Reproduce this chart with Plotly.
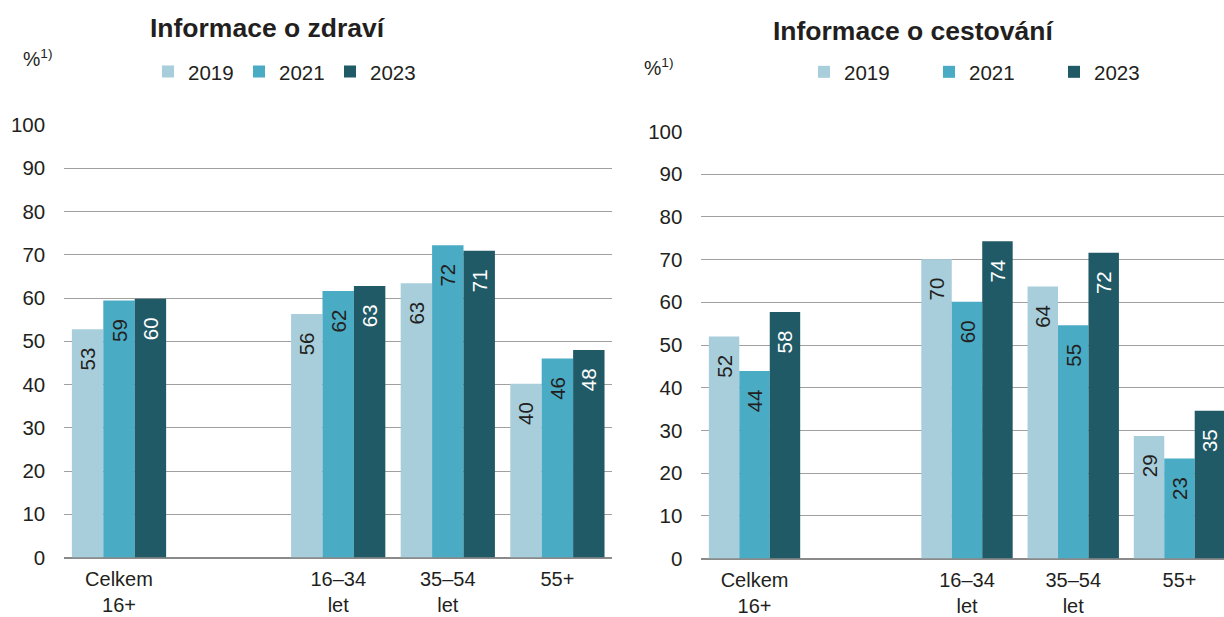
import plotly.graph_objects as go

W, H = 1224, 617

categories = ["Celkem<br>16+", " ", "16–34<br>let", "35–54<br>let", "55+"]
years = ["2019", "2021", "2023"]

zdravi_2019 = [52.8, None, 56.3, 63.4, 40.2]
zdravi_2021 = [59.4, None, 61.6, 72.2, 46.0]
zdravi_2023 = [59.8, None, 62.8, 70.9, 48.0]

cestovani_2019 = [52.0, None, 70.1, 63.7, 28.7]
cestovani_2021 = [43.9, None, 60.1, 54.6, 23.4]
cestovani_2023 = [57.7, None, 74.3, 71.6, 34.6]

title_left = "Informace o zdraví"
title_right = "Informace o cestování"
unit_label = "%<sup>1)</sup>"
y_ticks = list(range(0, 101, 10))

colors = {"2019": "#A8CEDC", "2021": "#4AABC5", "2023": "#215A67"}
label_colors = {"2019": "#231F20", "2021": "#231F20", "2023": "#FFFFFF"}

FONT = "Liberation Sans, Arial, sans-serif"
TXT = "#231F20"
FS = 20.5
PAD = "\u00a0\u00a0\u2009"

fig = go.Figure()

left_series = [zdravi_2019, zdravi_2021, zdravi_2023]
right_series = [cestovani_2019, cestovani_2021, cestovani_2023]

for yr, vals in zip(years, left_series):
    fig.add_trace(go.Bar(
        x=categories, y=vals, name=yr, xaxis="x", yaxis="y",
        marker=dict(color=colors[yr], line=dict(width=0)),
        texttemplate="%{y:.0f}" + PAD, textposition="inside",
        insidetextanchor="end", textangle=-90,
        textfont=dict(family=FONT, size=FS, color=label_colors[yr]),
        legend="legend", hoverinfo="skip",
    ))

for yr, vals in zip(years, right_series):
    fig.add_trace(go.Bar(
        x=categories, y=vals, name=yr, xaxis="x2", yaxis="y2",
        marker=dict(color=colors[yr], line=dict(width=0)),
        texttemplate="%{y:.0f}" + PAD, textposition="inside",
        insidetextanchor="end", textangle=-90,
        textfont=dict(family=FONT, size=FS, color=label_colors[yr]),
        legend="legend2", hoverinfo="skip",
    ))

def px_x(p):
    return p / W

def px_y(p):
    return (H - p) / H

axis_font = dict(family=FONT, size=FS, color=TXT)
xaxis_font = dict(family=FONT, size=20, color=TXT)

xcommon = dict(type="category", categoryorder="array", categoryarray=categories,
               showgrid=False, zeroline=False, showline=False, ticks="",
               tickfont=xaxis_font, fixedrange=True, ticklabelstandoff=7,
               automargin=False)
ycommon = dict(range=[0, 100], tickvals=y_ticks, showgrid=True, gridcolor="#A0A0A0",
               gridwidth=1.3, zeroline=True, zerolinecolor="#8A8A8A", zerolinewidth=2.2,
               showline=False, ticks="", tickfont=axis_font, fixedrange=True,
               ticklabelstandoff=18, automargin=False)

fig.update_layout(
    width=W, height=H, autosize=False,
    margin=dict(l=0, r=0, t=0, b=0, pad=0, autoexpand=False),
    paper_bgcolor="white", plot_bgcolor="white",
    barmode="group", bargap=0.14, bargroupgap=0,
    font=dict(family=FONT, color=TXT),
    uniformtext=dict(minsize=FS, mode="show"),
    xaxis=dict(xcommon, domain=[px_x(64.2), px_x(612.2)], range=[-0.5, 4.5], anchor="y"),
    yaxis=dict(ycommon, domain=[px_y(557.5), px_y(125)], anchor="x"),
    xaxis2=dict(xcommon, domain=[px_x(701.4), 1.0], range=[-0.5, 4.419], anchor="y2"),
    yaxis2=dict(ycommon, domain=[px_y(558.5), px_y(131.5)], anchor="x2"),
    legend=dict(orientation="h", x=px_x(148), y=px_y(71.7), xanchor="left", yanchor="middle",
                font=dict(family=FONT, size=FS, color=TXT), entrywidth=46,
                entrywidthmode="pixels", bgcolor="rgba(0,0,0,0)", traceorder="normal"),
    legend2=dict(orientation="h", x=px_x(804), y=px_y(72), xanchor="left", yanchor="middle",
                 font=dict(family=FONT, size=FS, color=TXT), entrywidth=80,
                 entrywidthmode="pixels", bgcolor="rgba(0,0,0,0)", traceorder="normal"),
    annotations=[
        dict(text="<b>" + title_left + "</b>", x=px_x(267.5), y=px_y(28.5), xref="paper", yref="paper",
             xanchor="center", yanchor="middle", showarrow=False,
             font=dict(family=FONT, size=26.5, color=TXT)),
        dict(text="<b>" + title_right + "</b>", x=px_x(913), y=px_y(30.5), xref="paper", yref="paper",
             xanchor="center", yanchor="middle", showarrow=False,
             font=dict(family=FONT, size=26.5, color=TXT)),
        dict(text=unit_label, x=px_x(21), y=px_y(58), xref="paper", yref="paper",
             xanchor="left", yanchor="middle", showarrow=False,
             font=dict(family=FONT, size=19.5, color=TXT)),
        dict(text=unit_label, x=px_x(642), y=px_y(67), xref="paper", yref="paper",
             xanchor="left", yanchor="middle", showarrow=False,
             font=dict(family=FONT, size=19.5, color=TXT)),
    ],
)

fig.write_html("out.html", include_plotlyjs=True, config={"displayModeBar": False},
               post_script="document.body.style.margin='0';document.body.style.overflow='hidden';")
